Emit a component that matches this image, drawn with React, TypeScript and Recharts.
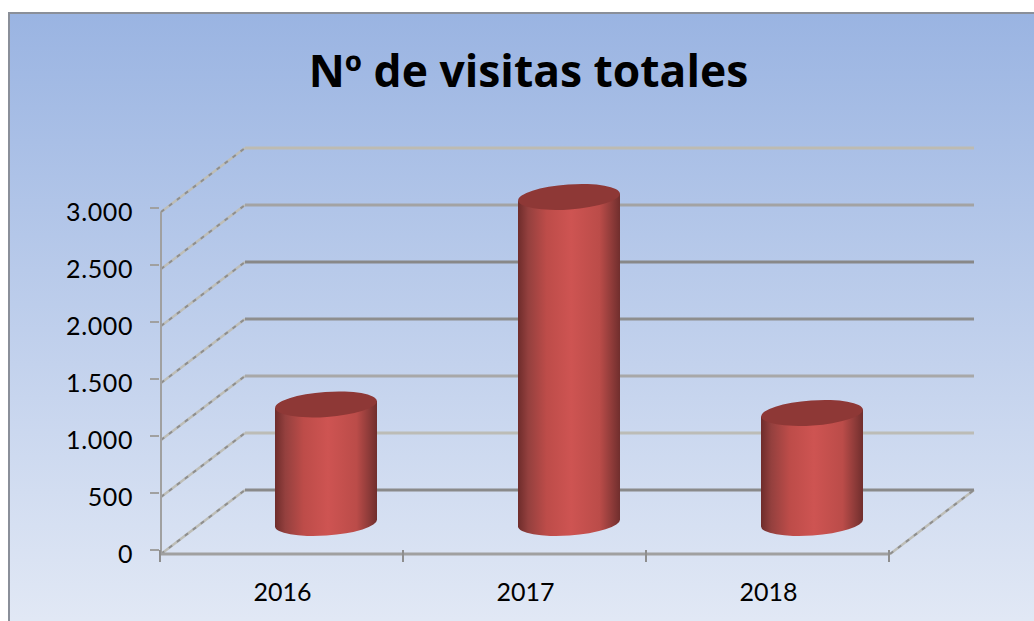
import { BarChart, Bar, XAxis, YAxis, CartesianGrid } from "recharts";

const years = ["2016", "2017", "2018"];
const visits = [1040, 2860, 965];
const yTicks = [0, 500, 1000, 1500, 2000, 2500, 3000];

// grid lines are not all the same grey in the original, top to bottom
const gridColors = ["#bdbbb2", "#a3a3a3", "#888888", "#8e8e8e", "#a8a8a8", "#bcbcb6", "#8a8a8a"];

const data = years.map((year, i) => ({ year, visits: visits[i] }));

const FONT = "Lato, sans-serif";
const AXIS_COLOR = "#a0a0a0";
const DEPTH_X = 84;
const DEPTH_Y = 64;
const BAND = 243;
const PLOT_TOP = 212;

// Floor and back wall lines of the fake 3D box
function GridLine(props: any) {
  const { x1, x2, y1 } = props;
  const row = Math.round((y1 - PLOT_TOP) / 57);
  const color = gridColors[row] ?? AXIS_COLOR;
  const isFloor = row === gridColors.length - 1;
  const backY = y1 - DEPTH_Y;
  const diagonal = (x: number) => (
    <>
      <line x1={x} y1={y1} x2={x + DEPTH_X} y2={backY} stroke="#bebeb8" strokeWidth={2.5} />
      <line x1={x} y1={y1} x2={x + DEPTH_X} y2={backY} stroke="#8e8e8e" strokeWidth={2} strokeDasharray="4 6" />
    </>
  );
  return (
    <g>
      {diagonal(x1)}
      {isFloor && diagonal(x2)}
      <line x1={x1 + DEPTH_X} y1={backY} x2={x2 + DEPTH_X} y2={backY} stroke={color} strokeWidth={3} />
    </g>
  );
}

function YTick(props: any) {
  const { y, payload } = props;
  return (
    <g>
      <line x1={150} x2={159} y1={y - 4} y2={y - 4} stroke={AXIS_COLOR} strokeWidth={2} />
      <text x={133} y={y + 9} textAnchor="end" fontFamily={FONT} fontSize={25} letterSpacing={0.6} fill="#000">
        {payload.value.toLocaleString("de-DE")}
      </text>
    </g>
  );
}

function XTick(props: any) {
  const { x, payload, index } = props;
  const left = x - BAND / 2;
  const tick = (tx: number) => (
    <line x1={tx} x2={tx} y1={550} y2={562} stroke="#8e8e8e" strokeWidth={2} />
  );
  return (
    <g>
      {tick(left - 1)}
      {index === years.length - 1 && tick(left + BAND - 1)}
      <text x={x} y={601} textAnchor="middle" fontFamily={FONT} fontSize={25} fill="#000">
        {payload.value}
      </text>
    </g>
  );
}

function Cylinder(props: any) {
  const { x, y, width, height } = props;
  const cx = x + width / 2 + 43;
  const rx = width / 2;
  const ry = 12.5;
  const tilt = 3.5; // ellipses lean a bit, right side higher
  const top = y - 31;
  const bottom = y + height - 31;
  const body = [
    `M ${cx - rx} ${top + tilt}`,
    `L ${cx - rx} ${bottom + tilt}`,
    `A ${rx} ${ry} -4 0 0 ${cx + rx} ${bottom - tilt}`,
    `L ${cx + rx} ${top - tilt}`,
    "Z",
  ].join(" ");
  return (
    <g>
      <path d={body} fill="url(#cylinderBody)" />
      <ellipse
        cx={cx}
        cy={top}
        rx={rx}
        ry={ry}
        fill="#8e3836"
        transform={`rotate(-4 ${cx} ${top})`}
      />
    </g>
  );
}

export default function App() {
  return (
    <div
      style={{
        position: "absolute",
        left: 0,
        top: 0,
        width: 1034,
        height: 621,
        overflow: "hidden",
        background: "#fff",
      }}
    >
      <div
        style={{
          position: "absolute",
          left: 8,
          top: 12,
          width: 1100,
          height: 700,
          boxSizing: "border-box",
          border: "2px solid #8a8f99",
          background: "linear-gradient(180deg, #9ab4e2 0%, #e1e8f5 87%)",
        }}
      />
      <div
        style={{
          position: "absolute",
          left: 0,
          width: 1057,
          top: 40,
          textAlign: "center",
          fontFamily: "'Open Sans', sans-serif",
          fontWeight: 700,
          fontSize: 44.4,
          lineHeight: "60px",
          color: "#000",
        }}
      >
        Nº de visitas totales
      </div>
      <div style={{ position: "absolute", left: 0, top: 0 }}>
        <BarChart
          width={1034}
          height={621}
          data={data}
          margin={{ top: PLOT_TOP, right: 144, bottom: 0, left: 0 }}
          barSize={102}
        >
          <defs>
            <linearGradient id="cylinderBody" x1="0" y1="0" x2="1" y2="0">
              <stop offset="0%" stopColor="#6e2c2b" />
              <stop offset="10%" stopColor="#94403e" />
              <stop offset="28%" stopColor="#bd4c49" />
              <stop offset="52%" stopColor="#ce5452" />
              <stop offset="80%" stopColor="#bb4c49" />
              <stop offset="92%" stopColor="#8e3b39" />
              <stop offset="100%" stopColor="#702e2d" />
            </linearGradient>
          </defs>
          <CartesianGrid vertical={false} horizontal={(p: any) => <GridLine key={p.key} {...p} />} />
          <XAxis
            dataKey="year"
            axisLine={{ stroke: AXIS_COLOR, strokeWidth: 3 }}
            tickLine={false}
            tick={<XTick />}
            height={67}
          />
          <YAxis
            width={161}
            domain={[0, 3000]}
            ticks={yTicks}
            interval={0}
            axisLine={{ stroke: AXIS_COLOR, strokeWidth: 2 }}
            tickLine={false}
            tick={<YTick />}
          />
          <Bar dataKey="visits" isAnimationActive={false} shape={<Cylinder />} />
        </BarChart>
      </div>
    </div>
  );
}
